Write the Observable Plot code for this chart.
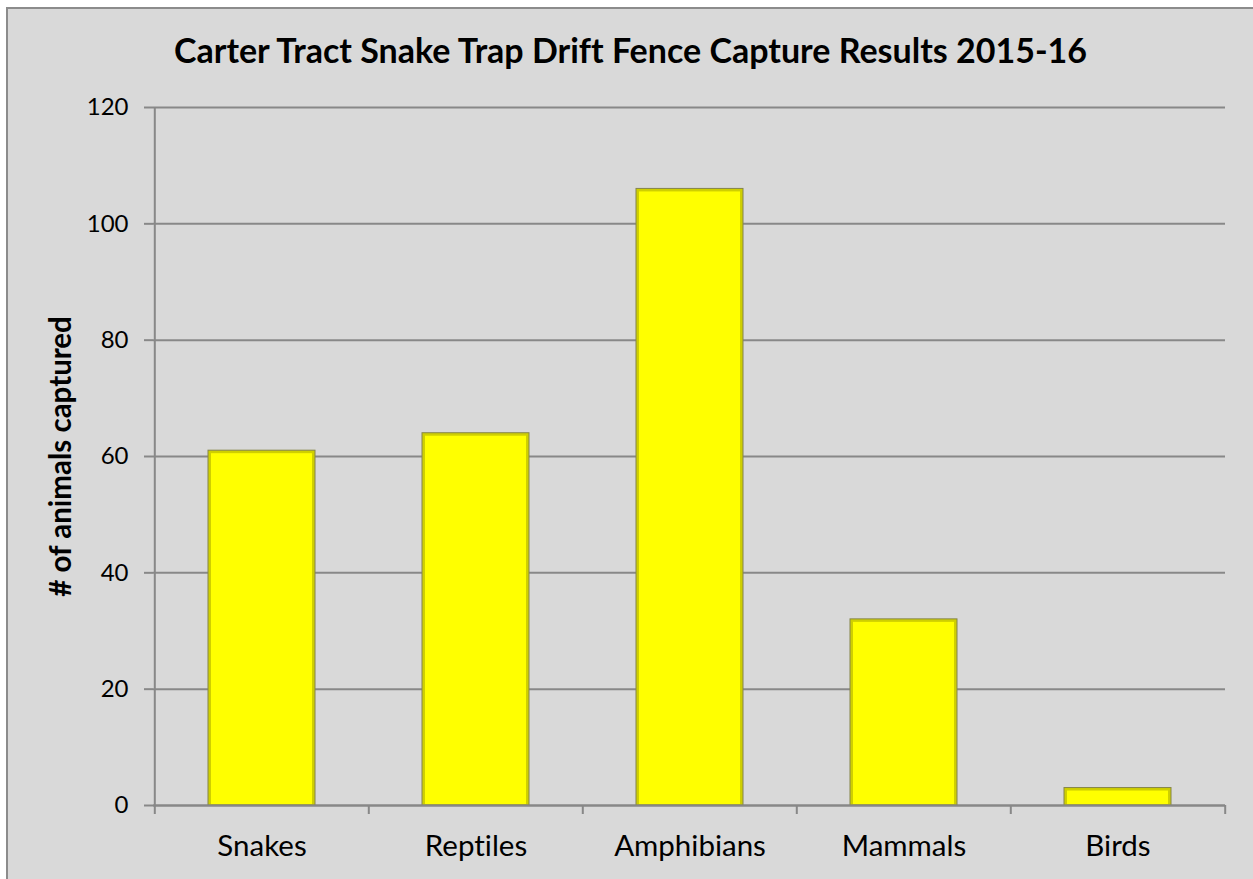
<!DOCTYPE html>
<html>
<head>
<meta charset="utf-8">
<script src="https://cdn.jsdelivr.net/npm/d3@7"></script>
<script src="https://cdn.jsdelivr.net/npm/@observablehq/plot@0.6"></script>
<style>
  html, body { margin: 0; padding: 0; background: #ffffff; overflow: hidden; }
  #chart {
    position: absolute; left: 6px; top: 7px;
    width: 1247px; height: 880px;
    background: #d9d9d9;
    border-left: 2px solid #8c8c8c; border-top: 2px solid #8c8c8c;
    font-family: Lato, "Open Sans", sans-serif;
    font-variant-ligatures: none;
  }
  #title {
    height: 81px; box-sizing: border-box; padding-top: 21px;
    text-align: center; font-weight: bold; font-size: 34px; line-height: 40px;
    color: #000; padding-right: 2px; white-space: nowrap;
  }
  #chart svg { display: block; background: transparent; font-variant-ligatures: none; }
  #chart svg text { font-variant-ligatures: none; }
  g[aria-label="bar-outline"] rect { filter: drop-shadow(2px 2px 2px rgba(0,0,0,0.35)); }
</style>
</head>
<body>
<div id="chart"><div id="title"></div></div>
<script>
// Capture counts by animal group
const titleText = "Carter Tract Snake Trap Drift Fence Capture Results 2015-16";
const yLabel = "# of animals captured";
const categories = ["Snakes", "Reptiles", "Amphibians", "Mammals", "Birds"];
const counts = [61, 64, 106, 32, 3];
const yTicks = [0, 20, 40, 60, 80, 100, 120];

const data = categories.map((c, i) => ({category: c, count: counts[i]}));

document.getElementById("title").textContent = titleText;

const W = 1245, H = 789;
const mL = 145, mR = 28, mT = 17, mB = 74;
// half of one category step, used to place the boundary ticks between groups
const halfStep = (W - mL - mR) / categories.length / 2;
const axisColor = "#888888";

const plot = Plot.plot({
  width: W, height: H,
  marginLeft: mL, marginRight: mR, marginTop: mT, marginBottom: mB,
  style: {background: "transparent", fontFamily: "Lato, 'Open Sans', sans-serif", color: "#000"},
  x: {domain: categories, paddingInner: 0.5, paddingOuter: 0.25, axis: null},
  y: {domain: [0, 120], axis: null},
  marks: [
    Plot.gridY(yTicks, {stroke: axisColor, strokeOpacity: 1, strokeWidth: 2}),
    // y axis: tick marks and numbers
    Plot.axisY({ticks: yTicks, tickSize: 9, tickPadding: 16, stroke: axisColor, strokeWidth: 2, fontSize: 24, label: null}),
    // vertical axis line at the left edge of the first category
    Plot.ruleX([categories[0]], {dx: -halfStep, stroke: axisColor, strokeWidth: 2}),
    // bars: darker rim with a bright yellow face
    Plot.barY(data, {x: "category", y: "count", fill: "#cfcf00", stroke: "#85854a", strokeWidth: 1, ariaLabel: "bar-outline"}),
    Plot.barY(data, {x: "category", y: "count", fill: "#ffff00", inset: 3, insetBottom: 1}),
    // baseline
    Plot.ruleY([0], {stroke: axisColor, strokeWidth: 2}),
    // category boundary ticks below the baseline
    Plot.axisX({tickSize: 9, text: null, dx: -halfStep, stroke: axisColor, strokeWidth: 2, label: null}),
    Plot.axisX({ticks: [categories[categories.length - 1]], tickSize: 9, text: null, dx: halfStep, stroke: axisColor, strokeWidth: 2, label: null}),
    // category names
    Plot.axisX({tickSize: 0, tickPadding: 30, fontSize: 29.5, label: null}),
    // y axis title
    Plot.text([yLabel], {frameAnchor: "left", textAnchor: "middle", rotate: -90, dx: -92, fontSize: 29.5, fontWeight: "bold", fill: "#000"})
  ]
});

document.getElementById("chart").appendChild(plot);
</script>
</body>
</html>
